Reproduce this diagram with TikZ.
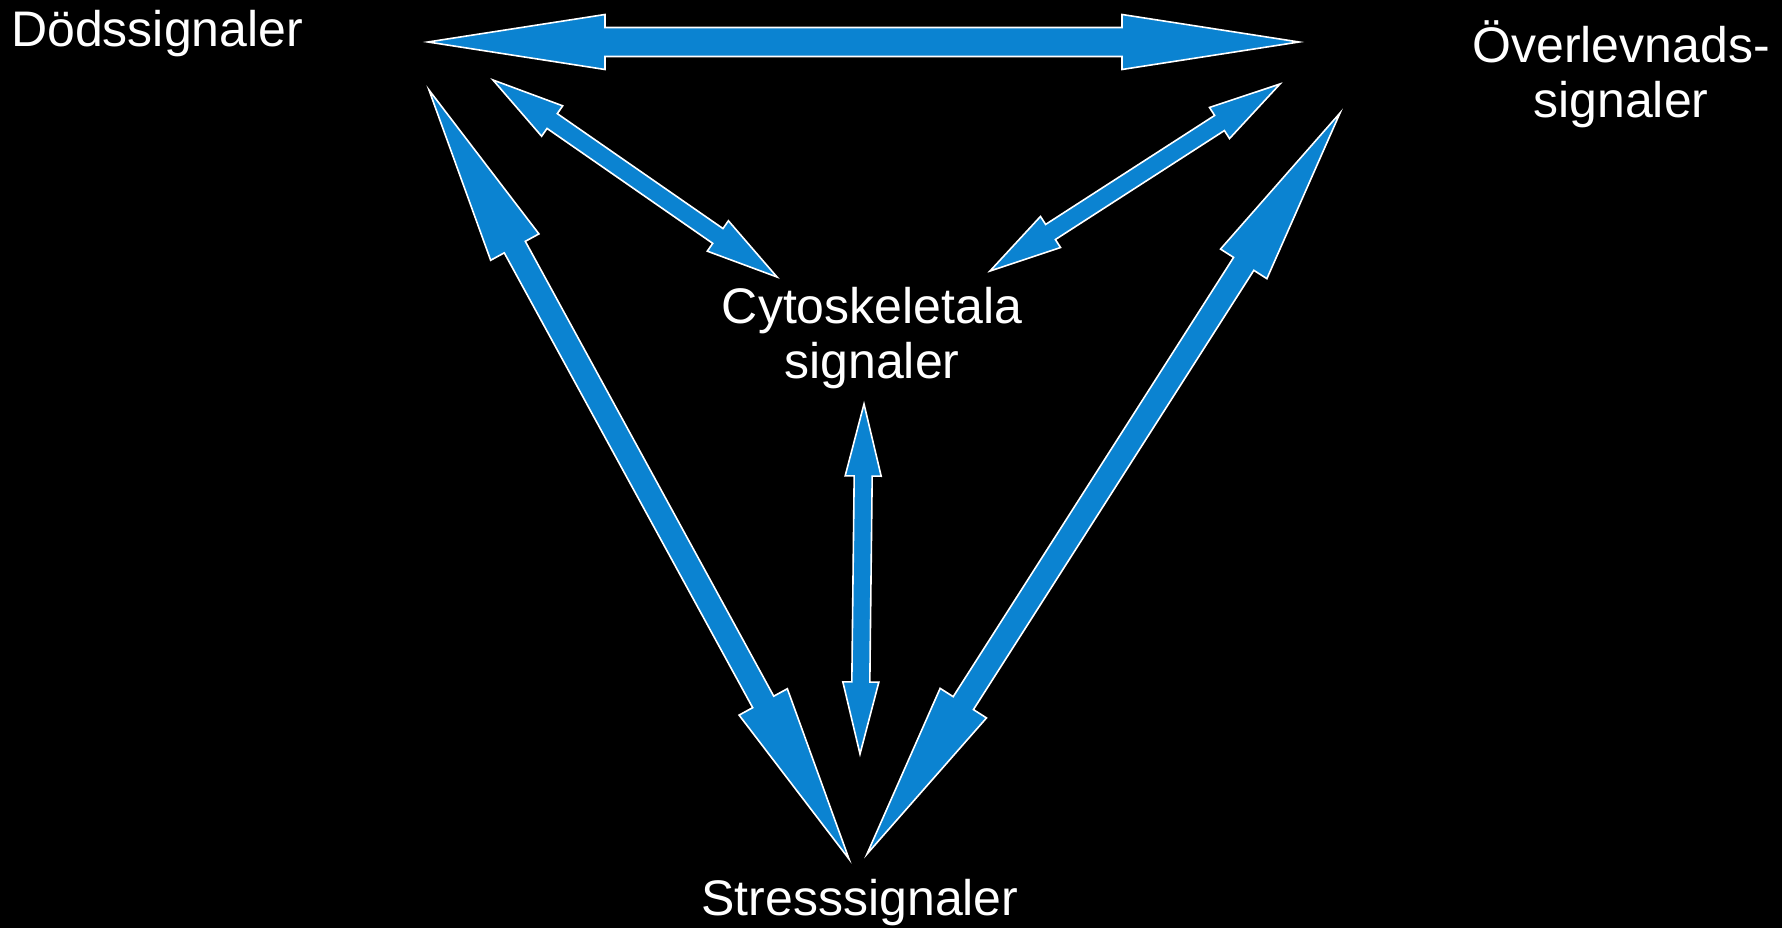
\documentclass[tikz,border=0pt]{standalone}
\usepackage{fontspec}
\setmainfont{Liberation Sans}
\usetikzlibrary{calc}
\definecolor{sigblue}{RGB}{11,131,209}

\tikzset{
    sig/.style={text=white, align=center, inner sep=0pt, font=\fontsize{50}{55}\selectfont},
    block/.style={fill=sigblue, draw=white, line width=1.6pt, line join=miter}
}

\newcommand{\twoway}[5]{%
    \draw[block] (#1) -- ($(#1)!#3!(#2)!#4!90:(#2)$) -- ($(#1)!#3!(#2)!#5!90:(#2)$)
        -- ($(#2)!#3!(#1)!#5!-90:(#1)$) -- ($(#2)!#3!(#1)!#4!-90:(#1)$) -- (#2)
        -- ($(#2)!#3!(#1)!#4!90:(#1)$) -- ($(#2)!#3!(#1)!#5!90:(#1)$)
        -- ($(#1)!#3!(#2)!#5!-90:(#2)$) -- ($(#1)!#3!(#2)!#4!-90:(#2)$) -- cycle;}

\begin{document}
\begin{tikzpicture}[x=1pt, y=-1pt]
    \fill[black] (0, 0) rectangle (1782, 928);
    \useasboundingbox (0, 0) rectangle (1782, 928);

    \node[sig, anchor=base west] at (11, 47) (dod) {Dödssignaler};
    \node[sig, anchor=base] at (1621, 118) (over) {Överlevnads-\\signaler};
    \node[sig, anchor=base] at (872, 378) (cyto) {Cytoskeletala\\signaler};
    \node[sig, anchor=base] at (860, 915) (stress) {Stresssignaler};

    \coordinate (dod-r) at (428, 42);
    \coordinate (dod-d) at (429, 90);
    \coordinate (dod-c) at (493, 80);
    \coordinate (over-l) at (1299, 42);
    \coordinate (over-d) at (1340, 113);
    \coordinate (over-c) at (1280, 84);
    \coordinate (cyto-l) at (777, 277);
    \coordinate (cyto-r) at (990, 271);
    \coordinate (cyto-d) at (864, 404);
    \coordinate (stress-l) at (849, 859);
    \coordinate (stress-r) at (867, 854);
    \coordinate (stress-c) at (860, 754);

    \twoway{dod-r}{over-l}{177pt}{27.5pt}{14.5pt}
    \twoway{dod-d}{stress-l}{179pt}{27.5pt}{12pt}
    \twoway{over-d}{stress-r}{179pt}{27.5pt}{12pt}
    \twoway{dod-c}{cyto-l}{72pt}{18.5pt}{9pt}
    \twoway{over-c}{cyto-r}{72pt}{18.5pt}{9pt}
    \twoway{cyto-d}{stress-c}{72pt}{18pt}{9pt}
\end{tikzpicture}
\end{document}
